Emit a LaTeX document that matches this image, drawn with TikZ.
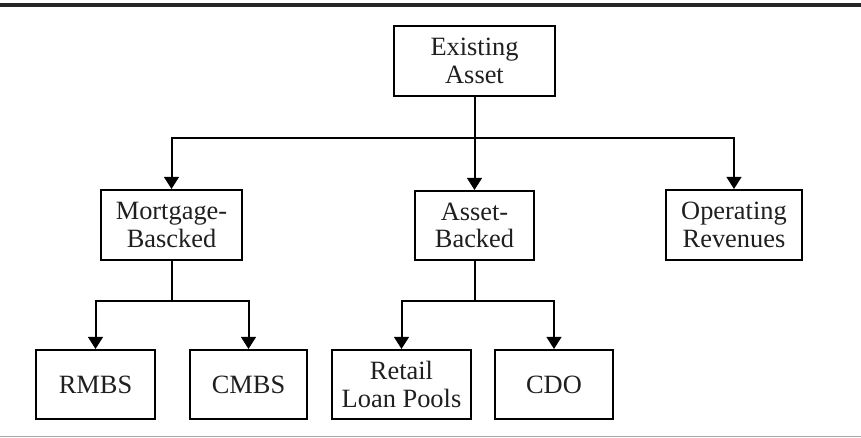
\documentclass[tikz,border=0pt]{standalone}
\usepackage{fontspec}
\setmainfont{Liberation Serif}
\usetikzlibrary{arrows.meta}
\begin{document}
\begin{tikzpicture}[x=0.75pt,y=-0.75pt,
  box/.style={draw=black,line width=1.5pt,align=center,inner sep=0pt,
    font=\fontsize{19.8}{20.8}\selectfont,text=black!88},
  link/.style={line width=1.5pt},
  arr/.style={link,-{Triangle[width=11pt,length=9pt]}}]
\useasboundingbox (0,0) rectangle (861,438);
% rules above and below the chart
\draw[line width=2.6pt,black!85] (0,5.2) -- (861,5.2);
\draw[line width=1.4pt,black!35] (0,436.5) -- (861,436.5);
% boxes
\node[box,minimum width=120.75pt,minimum height=52.5pt] (top) at (474.5,61) {Existing\\Asset};
\node[box,minimum width=105.75pt,minimum height=52.5pt] (mbs) at (171.5,225) {Mortgage-\\Bascked};
\node[box,minimum width=89.25pt,minimum height=51.75pt] (abs) at (474.5,225.5) {Asset-\\Backed};
\node[box,minimum width=102pt,minimum height=52.5pt] (opr) at (734,225) {Operating\\Revenues};
\node[box,minimum width=89.25pt,minimum height=51.75pt] (rmbs) at (95.5,384.5) {RMBS};
\node[box,minimum width=87.75pt,minimum height=51.75pt] (cmbs) at (248.5,384.5) {CMBS};
\node[box,minimum width=104.25pt,minimum height=51.75pt] (ret) at (401.5,384.5) {Retail\\Loan Pools};
\node[box,minimum width=88.5pt,minimum height=51.75pt] (cdo) at (554,384.5) {CDO};
% junction points of the tree
\coordinate (j1) at (474.5,138);
\coordinate (j2) at (171.5,301);
\coordinate (j3) at (474.5,301);
% connectors
\draw[arr] (top) -- (abs);
\draw[arr] (j1) -| (mbs.north);
\draw[arr] (j1) -| (opr.north);
\draw[link] (mbs) -- (j2);
\draw[arr] (j2) -| (rmbs.north);
\draw[arr] (j2) -| (cmbs.north);
\draw[link] (abs) -- (j3);
\draw[arr] (j3) -| (ret.north);
\draw[arr] (j3) -| (cdo.north);
\end{tikzpicture}
\end{document}
